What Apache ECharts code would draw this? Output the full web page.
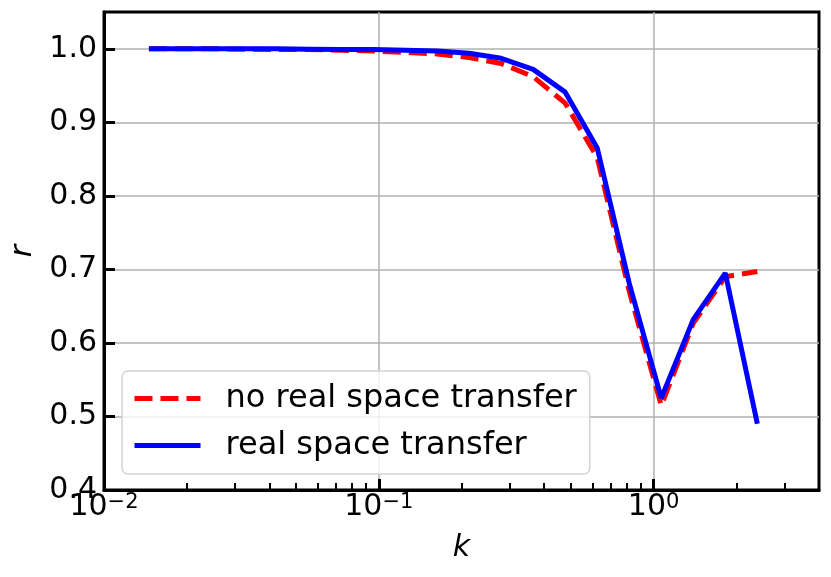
<!DOCTYPE html>
<html>
<head>
<meta charset="utf-8">
<script src="https://cdn.jsdelivr.net/npm/echarts@6/dist/echarts.min.js"></script>
<style>
  html, body { margin: 0; padding: 0; background: #fff; }
  #chart { width: 831px; height: 577px; }
</style>
</head>
<body>
<div id="chart"></div>
<script>
// k bins (log spaced)
const kValues = [0.01457, 0.01905, 0.02492, 0.03258, 0.04261, 0.05573, 0.07289, 0.09532, 0.1247, 0.1631,
  0.2132, 0.2789, 0.3647, 0.4770, 0.6237, 0.8157, 1.0667, 1.395, 1.824, 2.386];
// cross correlation r
const noRealSpace = [1.0, 1.0, 1.0, 0.9995, 0.999, 0.999, 0.998, 0.997, 0.995, 0.993,
  0.988, 0.980, 0.962, 0.926, 0.852, 0.670, 0.515, 0.627, 0.690, 0.697];
const realSpace = [1.0, 1.0, 1.0, 1.0, 1.0, 0.9995, 0.999, 0.999, 0.998, 0.997,
  0.994, 0.987, 0.972, 0.941, 0.865, 0.681, 0.525, 0.632, 0.695, 0.490];
const seriesNames = ['no real space transfer', 'real space transfer'];
// tick values
const xMajorTicks = [0.01, 0.1, 1];
const xMinorTicks = [0.02, 0.03, 0.04, 0.05, 0.06, 0.07, 0.08, 0.09,
  0.2, 0.3, 0.4, 0.5, 0.6, 0.7, 0.8, 0.9, 2, 3];
const yTicks = [0.4, 0.5, 0.6, 0.7, 0.8, 0.9, 1.0];

const FONT = 'DejaVu Sans';
const sup = { '-2': '\u22122', '-1': '\u22121', '0': '0' };

const chart = echarts.init(document.getElementById('chart'), null, { renderer: 'canvas' });

const option = {
  animation: false,
  backgroundColor: '#fff',
  textStyle: { fontFamily: FONT, color: '#000' },
  grid: {
    left: 104, top: 12, right: 12, bottom: 87,
    show: true, borderColor: '#000', borderWidth: 3, backgroundColor: 'transparent'
  },
  legend: {
    left: 122, top: 371,
    orient: 'vertical',
    itemWidth: 66, itemHeight: 14, itemGap: 12,
    padding: [10, 13, 11, 10],
    backgroundColor: 'rgba(255,255,255,0.8)',
    borderColor: '#d4d4d4', borderWidth: 1.5, borderRadius: 6,
    itemStyle: { opacity: 0 },
    lineStyle: { width: 5 },
    textStyle: { fontFamily: FONT, fontSize: 32, color: '#000', lineHeight: 35, padding: [0, 0, 0, 20] },
    data: seriesNames
  },
  xAxis: [{
    type: 'log', logBase: 10, min: 0.01, max: 4,
    name: 'k', nameLocation: 'middle', nameGap: 43,
    nameTextStyle: { fontFamily: FONT, fontSize: 30, fontStyle: 'italic', color: '#000' },
    axisLine: { show: true, lineStyle: { color: '#000', width: 3 } },
    axisTick: { show: true, inside: true, length: 11, lineStyle: { color: '#000', width: 3 }, customValues: xMajorTicks },
    axisLabel: {
      customValues: xMajorTicks,
      margin: 2,
      formatter: v => '{b|10}{s|' + sup[String(Math.round(Math.log10(v)))] + '}',
      rich: {
        b: { fontFamily: FONT, fontSize: 30, lineHeight: 30, color: '#000' },
        s: { fontFamily: FONT, fontSize: 21, lineHeight: 21, verticalAlign: 'top', color: '#000' }
      }
    },
    splitLine: { show: true, lineStyle: { color: '#b0b0b0', width: 1.5 } },
    minorTick: { show: false }
  }, {
    type: 'log', logBase: 10, min: 0.01, max: 4, position: 'bottom',
    axisLine: { show: false },
    axisTick: { show: true, inside: true, length: 7, lineStyle: { color: '#000', width: 2 }, customValues: xMinorTicks },
    axisLabel: { show: false },
    splitLine: { show: false }
  }],
  yAxis: {
    type: 'value', min: 0.4, max: 1.05, interval: 0.1,
    name: 'r', nameLocation: 'middle', nameGap: 64, nameRotate: 90,
    nameTextStyle: { fontFamily: FONT, fontSize: 30, fontStyle: 'italic', color: '#000' },
    axisLine: { show: true, lineStyle: { color: '#000', width: 3 } },
    axisTick: { show: true, inside: true, length: 11, lineStyle: { color: '#000', width: 3 }, customValues: yTicks },
    axisLabel: {
      customValues: yTicks, margin: 7,
      fontFamily: FONT, fontSize: 30, color: '#000',
      formatter: v => v.toFixed(1)
    },
    splitLine: { show: true, lineStyle: { color: '#b0b0b0', width: 1.5 } }
  },
  series: [{
    name: seriesNames[0], type: 'line', xAxisIndex: 0,
    data: kValues.map((k, i) => [k, noRealSpace[i]]),
    symbol: 'none',
    lineStyle: { color: '#ff0000', width: 5, type: [18, 8] },
    itemStyle: { color: '#ff0000' }
  }, {
    name: seriesNames[1], type: 'line', xAxisIndex: 0,
    data: kValues.map((k, i) => [k, realSpace[i]]),
    symbol: 'none',
    lineStyle: { color: '#0000ff', width: 5 },
    itemStyle: { color: '#0000ff' }
  }]
};

chart.setOption(option);
</script>
</body>
</html>
